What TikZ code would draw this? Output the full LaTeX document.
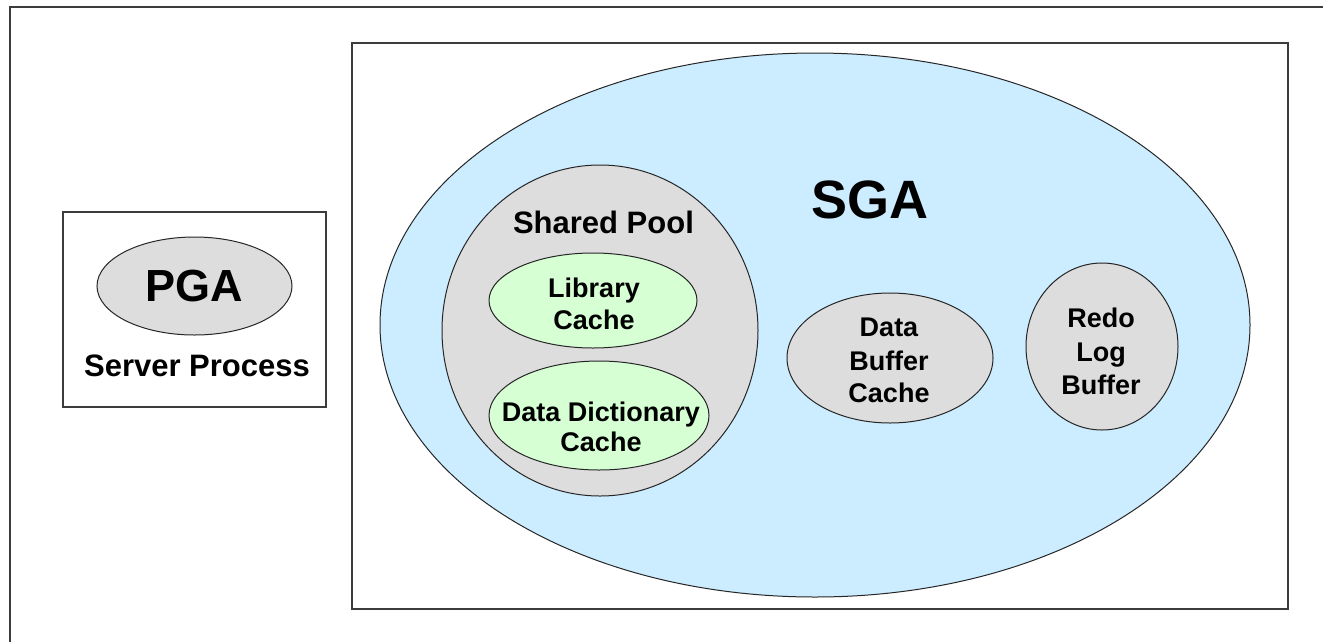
\documentclass[tikz,border=0pt]{standalone}
\usepackage{fontspec}
\setmainfont{Liberation Sans}
\usetikzlibrary{shapes.geometric}
\definecolor{sgablue}{RGB}{204,236,255}
\definecolor{poolgray}{RGB}{221,221,221}
\definecolor{cachegreen}{RGB}{214,255,212}
\definecolor{edgegray}{RGB}{60,60,60}
\begin{document}
\begin{tikzpicture}[x=1pt,y=-1pt,
  frame/.style={draw=edgegray, line width=2pt, rectangle, inner sep=0pt},
  blob/.style={ellipse, draw=black!85, line width=1pt, inner sep=0pt},
  txt/.style={anchor=base, inner sep=0pt, font=\bfseries\fontsize{27}{32}\selectfont},
  midtxt/.style={anchor=base, inner sep=0pt, font=\bfseries\fontsize{31}{36}\selectfont}]
\useasboundingbox (0,0) rectangle (1323,641);
% outer frame (extends beyond the page at right and bottom)
\node[frame, minimum width=1360pt, minimum height=680pt, anchor=north west] (outer) at (8.5,5.5) {};
% server process box
\node[frame, minimum width=263pt, minimum height=195pt] (srv) at (194.5,309.5) {};
\node[blob, fill=poolgray, minimum width=195pt, minimum height=98pt] (pga) at (194.5,286) {};
\node[anchor=base, inner sep=0pt, font=\bfseries\fontsize{45}{50}\selectfont] (pgat) at (194.5,301) {PGA};
\node[midtxt] (srvt) at (197,376) {Server Process};
% SGA box
\node[frame, minimum width=936pt, minimum height=566pt] (sgabox) at (820,326) {};
\node[blob, fill=sgablue, minimum width=870pt, minimum height=544pt] (sga) at (815,325) {};
\node[anchor=base, inner sep=0pt, font=\bfseries\fontsize{54}{60}\selectfont] (sgat) at (870,218) {SGA};
% shared pool
\node[blob, fill=poolgray, minimum width=316pt, minimum height=331pt] (pool) at (600,330.5) {};
\node[midtxt] (poolt) at (603.5,233) {Shared Pool};
\node[blob, fill=cachegreen, minimum width=208pt, minimum height=95pt] (lib) at (593,300.5) {};
\node[txt] (lib1) at (594,297.5) {Library};
\node[txt] (lib2) at (594,329.5) {Cache};
\node[blob, fill=cachegreen, minimum width=220pt, minimum height=109pt] (dd) at (599,415.5) {};
\node[txt] (dd1) at (601,421.5) {Data Dictionary};
\node[txt] (dd2) at (601,451.5) {Cache};
% data buffer cache
\node[blob, fill=poolgray, minimum width=206pt, minimum height=130pt] (dbc) at (890,358) {};
\node[txt] (dbc1) at (889,336) {Data};
\node[txt] (dbc2) at (889,370.5) {Buffer};
\node[txt] (dbc3) at (889,402.5) {Cache};
% redo log buffer
\node[blob, fill=poolgray, minimum width=152pt, minimum height=167pt] (redo) at (1102,346.5) {};
\node[txt] (redo1) at (1101,327) {Redo};
\node[txt] (redo2) at (1101,361) {Log};
\node[txt] (redo3) at (1101,394.5) {Buffer};
\end{tikzpicture}
\end{document}
